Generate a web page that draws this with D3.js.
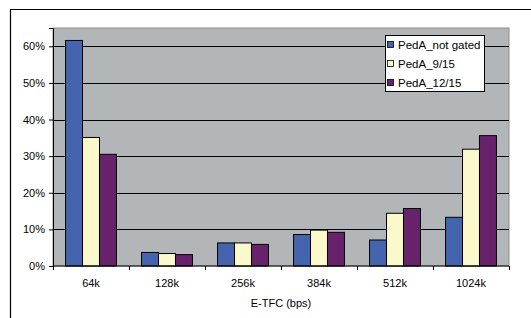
<!DOCTYPE html>
<html>
<head>
<meta charset="utf-8">
<script src="https://cdn.jsdelivr.net/npm/d3@7"></script>
<style>
body { margin: 0; background: #fff; }
svg { display: block; font-family: "Liberation Sans", Arial, sans-serif; }
</style>
</head>
<body>
<svg width="531" height="318"></svg>
<script>
var categories = ["64k", "128k", "256k", "384k", "512k", "1024k"];
var seriesNames = ["PedA_not gated", "PedA_9/15", "PedA_12/15"];
var notGated = [61.6, 3.7, 6.3, 8.6, 7.1, 13.3];
var gated915 = [35.1, 3.4, 6.3, 9.8, 14.4, 31.9];
var gated1215 = [30.5, 3.1, 5.9, 9.2, 15.7, 35.6];
var yTicks = [0, 10, 20, 30, 40, 50, 60];
var colors = ["#4464ad", "#fbf9cb", "#67226b"];

var series = [notGated, gated915, gated1215];

var svg = d3.select("svg"),
    margin = {left: 53, top: 28, right: 22, bottom: 52},
    width = +svg.attr("width") - margin.left - margin.right,
    height = +svg.attr("height") - margin.top - margin.bottom;

// outer chart border (top and left visible)
svg.append("path")
    .attr("d", "M10.5,318V9.5H531")
    .attr("fill", "none")
    .attr("stroke", "#000")
    .attr("stroke-width", 1.2);

var g = svg.append("g").attr("transform", "translate(" + margin.left + "," + margin.top + ")");

var x0 = d3.scaleBand().domain(categories).range([0, width]).paddingInner(0.33).paddingOuter(0.165);
var x1 = d3.scaleBand().domain(d3.range(series.length)).range([0, x0.bandwidth()]);
var xOuter = d3.scaleBand().domain(categories).range([0, width]);
var y = d3.scaleLinear().domain([0, 65]).range([height, 0]);

g.append("rect")
    .attr("width", width)
    .attr("height", height)
    .attr("fill", "#b3b6b9")
    .attr("stroke", "#8a8d90");

g.selectAll(".grid")
    .data(yTicks.slice(1))
    .enter().append("line")
    .attr("x1", 0).attr("x2", width)
    .attr("y1", function(d) { return Math.round(y(d)) + 0.5; })
    .attr("y2", function(d) { return Math.round(y(d)) + 0.5; })
    .attr("stroke", "#000");

var groups = g.selectAll(".grp")
    .data(categories)
    .enter().append("g")
    .attr("transform", function(d) { return "translate(" + x0(d) + ",0)"; });

groups.selectAll("rect")
    .data(function(d, i) { return series.map(function(s, k) { return {k: k, v: s[i]}; }); })
    .enter().append("rect")
    .attr("x", function(d) { return x1(d.k); })
    .attr("y", function(d) { return y(d.v); })
    .attr("width", x1.bandwidth())
    .attr("height", function(d) { return height - y(d.v); })
    .attr("fill", function(d) { return colors[d.k]; })
    .attr("stroke", "#000")
    .attr("stroke-width", 1);

// y axis
var yAxis = g.append("g")
    .call(d3.axisLeft(y).tickValues(yTicks).tickSize(4).tickPadding(4)
        .tickFormat(function(d) { return d + "%"; }));
yAxis.select(".domain").attr("stroke", "#000");
yAxis.selectAll("text").attr("font-size", 11).attr("fill", "#000").style("font-family", "Liberation Sans, Arial, sans-serif");

// x axis
var xAxis = g.append("g").attr("transform", "translate(0," + height + ")");
xAxis.append("line").attr("x1", 0).attr("x2", width).attr("stroke", "#000");
xAxis.selectAll(".tk")
    .data(categories.concat(["end"]))
    .enter().append("line")
    .attr("x1", function(d, i) { return Math.round(i * xOuter.step()) + 0.5; })
    .attr("x2", function(d, i) { return Math.round(i * xOuter.step()) + 0.5; })
    .attr("y1", 0).attr("y2", 4)
    .attr("stroke", "#000");
xAxis.selectAll(".lbl")
    .data(categories)
    .enter().append("text")
    .attr("x", function(d) { return xOuter(d) + xOuter.bandwidth() / 2; })
    .attr("y", 21)
    .attr("text-anchor", "middle")
    .attr("font-size", 11)
    .text(function(d) { return d; });

svg.append("text")
    .attr("x", margin.left + width / 2)
    .attr("y", 307)
    .attr("text-anchor", "middle")
    .attr("font-size", 11)
    .text("E-TFC (bps)");

// legend
var legend = svg.append("g").attr("transform", "translate(385,35)");
legend.append("rect")
    .attr("x", 0.5).attr("y", 0.5)
    .attr("width", 99).attr("height", 56)
    .attr("fill", "#fff")
    .attr("stroke", "#000");
var items = legend.selectAll(".item")
    .data(seriesNames)
    .enter().append("g")
    .attr("transform", function(d, i) { return "translate(0," + (9 + i * 19) + ")"; });
items.append("rect")
    .attr("x", 2.5).attr("y", -2.5)
    .attr("width", 6).attr("height", 6)
    .attr("fill", function(d, i) { return colors[i]; })
    .attr("stroke", "#000")
    .attr("stroke-width", 0.8);
items.append("text")
    .attr("x", 13).attr("y", 4.5)
    .attr("font-size", 11.5)
    .text(function(d) { return d; });
</script>
</body>
</html>
